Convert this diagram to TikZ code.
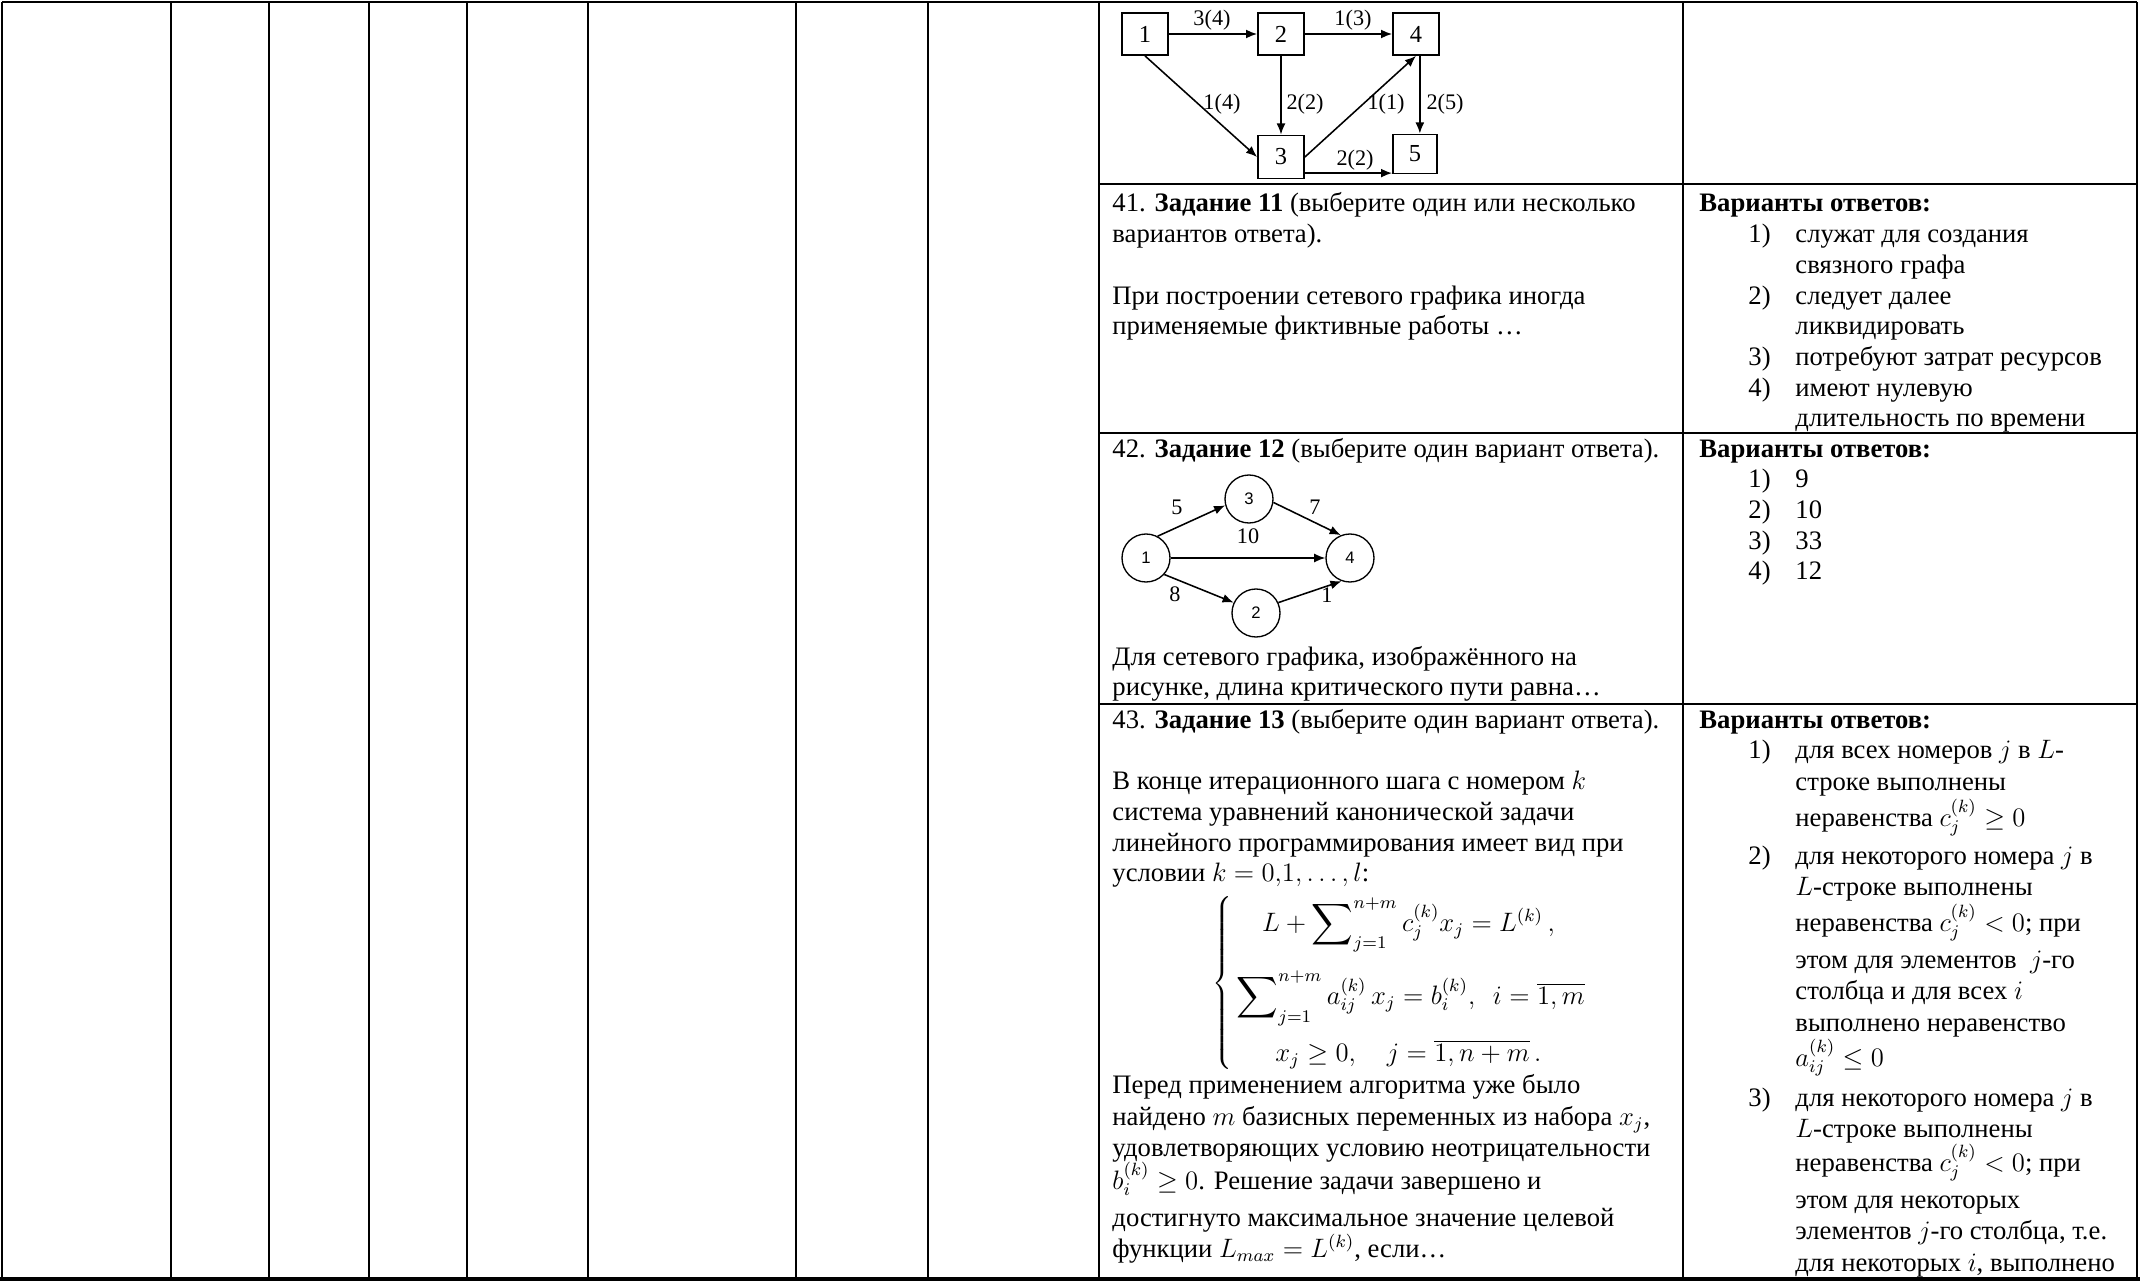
\documentclass[tikz,border=0pt]{standalone}
\usepackage{fontspec}
\setmainfont{Liberation Serif}
\newfontfamily\sansf{Liberation Sans}
\usetikzlibrary{arrows.meta,calc}
\newcommand\Tl[4]{\node[txt] (#1) at (#2,#3) {#4};}
\newcommand\BigSum{\mathop{\vcenter{\hbox{\scalebox{1.3}{$\displaystyle\sum$}}}}\nolimits}
\begin{document}
\begin{tikzpicture}[x=0.45pt,y=-0.45pt,
  txt/.style={anchor=base west,inner sep=0pt,font=\fontsize{12}{13.8}\selectfont},
  gridline/.style={line width=1pt},
  rbox/.style={draw,line width=0.8pt,inner sep=0pt,minimum width=20.7pt,minimum height=18.9pt,font=\fontsize{11}{13}\selectfont},
  cnode/.style={draw,circle,line width=0.6pt,inner sep=0pt,minimum size=21.6pt,font=\sansf\fontsize{7.5}{9}\selectfont},
  edge/.style={line width=0.7pt,-{Latex[length=5pt,width=4pt]}},
  elab/.style={inner sep=0pt,font=\fontsize{10}{12}\selectfont},
]
\useasboundingbox (0,0) rectangle (2140,1282);
\fill[white] (0,0) rectangle (2140,1282);

% ---- table grid ----
\foreach \x in {2,171,269,369,467,588,796,928,1099,1683,2137}
  \draw[gridline] (\x,2) -- (\x,1279);
\draw[gridline] (2,2) -- (2137,2);
\foreach \y in {184,433,704}
  \draw[gridline] (1099,\y) -- (2137,\y);
\draw[line width=2pt] (0,1279) -- (2140,1279);

% ---- graph 1 (top) ----
\node[rbox] (n1) at (1145,34) {1};
\node[rbox] (n2) at (1281,34) {2};
\node[rbox] (n4) at (1416,34) {4};
\node[rbox,minimum height=19.4pt] (n3) at (1281,157) {3};
\node[rbox,minimum width=19.8pt,minimum height=17.6pt] (n5) at (1415,154) {5};
\draw[edge] (n1.east) -- (n2.west);
\draw[edge] (n2.east) -- (n4.west);
\draw[edge] (n1.south) -- (n3.west);
\draw[edge] (n2.south) -- (n3.north);
\draw[edge] (n3.east) -- (n4.south);
\draw[edge] (n4.-80) -- (n4.-80 |- n5.north);
\draw[edge] (n3.-34) -- (n3.-34 -| n5.west);
\node[elab] (l12) at (1212,20) {3(4)};
\node[elab] (l24) at (1353,20) {1(3)};
\node[elab] (l13) at (1222,104) {1(4)};
\node[elab] (l23) at (1305,104) {2(2)};
\node[elab] (l34) at (1386,104) {1(1)};
\node[elab] (l45) at (1445,104) {2(5)};
\node[elab] (l35) at (1355,160) {2(2)};

% ---- task 11 ----
\Tl{a1}{1112}{212}{41. \textbf{Задание 11} (выберите один или несколько}
\Tl{a2}{1112}{242.7}{вариантов ответа).}
\Tl{a3}{1112}{304}{При построении сетевого графика иногда}
\Tl{a4}{1112}{334.8}{применяемые фиктивные работы …}
\Tl{b0}{1699}{212}{\textbf{Варианты ответов:}}
\Tl{b1n}{1748}{242.7}{1)}\Tl{b1}{1795}{242.7}{служат для создания}
\Tl{b1b}{1795}{273.4}{связного графа}
\Tl{b2n}{1748}{304}{2)}\Tl{b2}{1795}{304}{следует далее}
\Tl{b2b}{1795}{334.8}{ликвидировать}
\Tl{b3n}{1748}{365.5}{3)}\Tl{b3}{1795}{365.5}{потребуют затрат ресурсов}
\Tl{b4n}{1748}{396}{4)}\Tl{b4}{1795}{396}{имеют нулевую}
\Tl{b4b}{1795}{426.8}{длительность по времени}

% ---- task 12 ----
\Tl{c1}{1112}{457}{42. \textbf{Задание 12} (выберите один вариант ответа).}
\node[cnode] (g1) at (1146,558) {1};
\node[cnode] (g3) at (1249,499) {3};
\node[cnode] (g4) at (1350,558) {4};
\node[cnode] (g2) at (1256,613) {2};
\draw[edge] (g1.62) -- (g3.195);
\draw[edge] (g3.-8) -- (g4.112);
\draw[edge] (g1.east) -- (g4.west);
\draw[edge] (g1.-42) -- (g2.155);
\draw[edge] (g2.25) -- (g4.-110);
\node[elab] (e13) at (1177,507) {5};
\node[elab] (e34) at (1315,507) {7};
\node[elab] (e14) at (1248,536) {10};
\node[elab] (e12) at (1175,594) {8};
\node[elab] (e24) at (1327,595) {1};
\Tl{c2}{1112}{665}{Для сетевого графика, изображённого на}
\Tl{c3}{1112}{695}{рисунке, длина критического пути равна…}
\Tl{d0}{1699}{457}{\textbf{Варианты ответов:}}
\Tl{d1n}{1748}{487.7}{1)}\Tl{d1}{1795}{487.7}{9}
\Tl{d2n}{1748}{518.4}{2)}\Tl{d2}{1795}{518.4}{10}
\Tl{d3n}{1748}{549}{3)}\Tl{d3}{1795}{549}{33}
\Tl{d4n}{1748}{579.8}{4)}\Tl{d4}{1795}{579.8}{12}

% ---- task 13 ----
\Tl{f1}{1112}{728}{43. \textbf{Задание 13} (выберите один вариант ответа).}
\Tl{f2}{1112}{789}{В конце итерационного шага с номером $k$}
\Tl{f3}{1112}{820}{система уравнений канонической задачи}
\Tl{f4}{1112}{851}{линейного программирования имеет вид при}
\Tl{f5}{1112}{881}{условии $k = 0{,}1, \dots, l$:}
\node[anchor=west,inner sep=0pt,font=\fontsize{12}{13.8}\selectfont] (sys) at (1212,983) {$\left\{\begin{array}{@{}c@{}}
  \rule[-14pt]{0pt}{31pt}L+\BigSum_{j=1}^{n+m} c_j^{(k)}x_j = L^{(k)}\,,\\
  \rule[-8pt]{0pt}{27pt}\BigSum_{j=1}^{n+m} a_{ij}^{(k)}\,x_j = b_i^{(k)},\ \ i=\overline{1,m}\\
  \rule[-5pt]{0pt}{21pt}x_j \ge 0,\quad j=\overline{1,n+m}\,.
\end{array}\right.$};
\Tl{f6}{1112}{1093}{Перед применением алгоритма уже было}
\Tl{f7}{1112}{1125}{найдено $m$ базисных переменных из набора $x_j$,}
\Tl{f8}{1112}{1156}{удовлетворяющих условию неотрицательности}
\Tl{f9}{1112}{1189}{$b_i^{(k)} \ge 0$. Решение задачи завершено и}
\Tl{f10}{1112}{1226}{достигнуто максимальное значение целевой}
\Tl{f11}{1112}{1257}{функции $L_{max} = L^{(k)}$, если…}

\Tl{h0}{1699}{728}{\textbf{Варианты ответов:}}
\Tl{h1n}{1748}{758}{1)}\Tl{h1}{1795}{758}{для всех номеров $j$ в $L$-}
\Tl{h1b}{1795}{790}{строке выполнены}
\Tl{h1c}{1795}{826}{неравенства $c_j^{(k)} \ge 0$}
\Tl{h2n}{1748}{864}{2)}\Tl{h2}{1795}{864}{для некоторого номера $j$ в}
\Tl{h2b}{1795}{895}{$L$-строке выполнены}
\Tl{h2c}{1795}{931}{неравенства $c_j^{(k)} < 0$; при}
\Tl{h2d}{1795}{968}{этом для элементов\ \ $j$-го}
\Tl{h2e}{1795}{999}{столбца и для всех $i$}
\Tl{h2f}{1795}{1031}{выполнено неравенство}
\Tl{h2g}{1795}{1066}{$a_{ij}^{(k)} \le 0$}
\Tl{h3n}{1748}{1106}{3)}\Tl{h3}{1795}{1106}{для некоторого номера $j$ в}
\Tl{h3b}{1795}{1137}{$L$-строке выполнены}
\Tl{h3c}{1795}{1171}{неравенства $c_j^{(k)} < 0$; при}
\Tl{h3d}{1795}{1208}{этом для некоторых}
\Tl{h3e}{1795}{1239}{элементов $j$-го столбца, т.е.}
\Tl{h3f}{1795}{1271}{для некоторых $i$, выполнено}
\end{tikzpicture}
\end{document}
